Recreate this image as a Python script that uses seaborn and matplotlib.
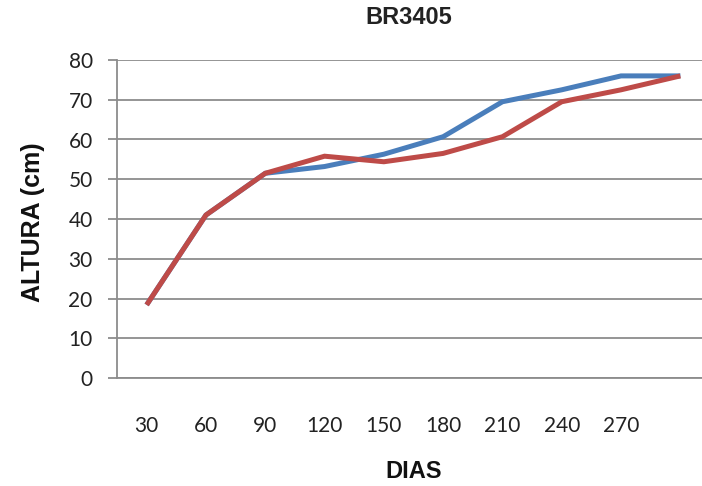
import pandas as pd
import matplotlib
matplotlib.use("Agg")
import matplotlib.pyplot as plt
import seaborn as sns

# Data
dias = [30, 60, 90, 120, 150, 180, 210, 240, 270, 300]
serie_azul = [18.4, 41.0, 51.5, 53.2, 56.3, 60.7, 69.5, 72.5, 76.0, 76.0]
serie_roja = [18.4, 41.0, 51.5, 55.8, 54.4, 56.5, 60.7, 69.5, 72.5, 76.0]
tick_labels = ["30", "60", "90", "120", "150", "180", "210", "240", "270", ""]
y_ticks = [0, 10, 20, 30, 40, 50, 60, 70, 80]

df = pd.DataFrame({
    "dias": dias * 2,
    "altura": serie_azul + serie_roja,
    "serie": ["azul"] * len(dias) + ["roja"] * len(dias),
})

sns.set_style("white")
plt.rcParams["font.family"] = ["Liberation Sans", "DejaVu Sans"]

grid_col = "#8c8c8c"

fig = plt.figure(figsize=(7.02, 4.86), dpi=100)
ax = fig.add_axes([117 / 702, 1 - 378 / 486, 593 / 702, 318 / 486])

sns.lineplot(data=df, x="dias", y="altura", hue="serie",
             palette={"azul": "#4a7ebb", "roja": "#be4b48"},
             linewidth=3.6, legend=False, ax=ax)
for ln in ax.get_lines():
    ln.set_solid_capstyle("butt")
    ln.set_solid_joinstyle("miter")

ax.set_xlim(15, 315)
ax.set_ylim(0, 80)
ax.set_xticks(dias)
ax.set_xticklabels(tick_labels, fontfamily="Lato", fontsize=15)
ax.set_yticks(y_ticks)
ax.set_yticklabels([str(v) for v in y_ticks], fontfamily="Lato", fontsize=15)
ax.yaxis.grid(True, color=grid_col, linewidth=1.3)
ax.set_axisbelow(True)

ax.tick_params(axis="x", length=0, pad=27, colors="#222222")
ax.tick_params(axis="y", length=6.5, width=1.3, color=grid_col, pad=11,
               labelcolor="#222222", left=True)

for side in ["top", "right"]:
    ax.spines[side].set_visible(False)
for side in ["left", "bottom"]:
    ax.spines[side].set_color(grid_col)
    ax.spines[side].set_linewidth(1.3)

ax.set_xlabel("")
ax.set_ylabel("")

fig.text(409 / 702, 1 - 18 / 486, "BR3405", ha="center", va="center",
         fontsize=17, fontweight="bold", color="#222222")
fig.text(33 / 702, 1 - 222 / 486, "ALTURA (cm)", ha="center", va="center",
         rotation=90, fontsize=18, fontweight="bold", color="#111111")
fig.text(414 / 702, 1 - 471 / 486, "DIAS", ha="center", va="center",
         fontsize=17, fontweight="bold", color="#111111")

fig.savefig("out.png", dpi=100)
